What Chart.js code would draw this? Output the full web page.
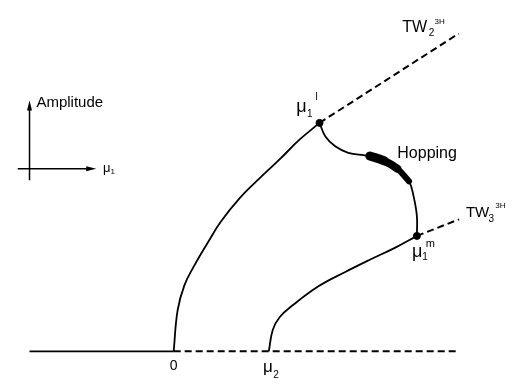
<!DOCTYPE html>
<html>
<head>
<meta charset="utf-8">
<script src="https://cdn.jsdelivr.net/npm/chart.js@4/dist/chart.umd.min.js"></script>
<style>
  html, body { margin: 0; padding: 0; background: #fff; }
  #wrap { width: 518px; height: 389px; }
</style>
</head>
<body>
<div id="wrap"><canvas id="bifurcation"></canvas></div>
<script>
// trivial state: stable for mu1 < 0, unstable beyond
const trivialStableX = [-14.7, 0];
const trivialUnstableX = [0, 28.8];

// first travelling-wave branch, born at mu1 = 0
const branch1X = [0, 0.4, 1.1, 2.1, 3.5, 4.8, 6.8, 8.8, 10.8, 12.8, 14.87];
const branch1Y = [0, 4.2, 6.8, 8.8, 11.2, 13.3, 15.8, 17.8, 19.7, 21.7, 23.45];

// second branch, born at mu2
const branch2X = [9.7, 10.1, 10.8, 12.1, 14.8, 17.5, 20.1, 22.6, 24.8];
const branch2Y = [0, 2.2, 3.5, 4.7, 6.7, 8.15, 9.45, 10.65, 11.85];

// hopping branch joining mu1^l and mu1^m
const hopX = [14.87, 15.47, 16.47, 17.8, 19.47, 20.0, 21.47, 22.8, 24.0, 24.47, 24.8, 24.8];
const hopY = [23.45, 22.05, 21.05, 20.38, 20.12, 20.05, 19.55, 18.75, 17.45, 15.88, 13.88, 11.85];
const hopStableX = [20.0, 21.47, 22.8, 24.0];
const hopStableY = [20.05, 19.55, 18.75, 17.45];

// unstable continuations past the bifurcation points
const tw2X = [14.87, 29.07];
const tw2Y = [23.45, 32.62];
const tw3X = [24.8, 29.1];
const tw3Y = [11.85, 13.55];

// mu1^l and mu1^m
const bifX = [14.87, 24.8];
const bifY = [23.45, 11.85];

const pts = (xs, ys) => xs.map((x, i) => ({ x: x, y: ys ? ys[i] : 0 }));

const FONT = '"Liberation Sans", Arial, sans-serif';

// text pieces: [text, x, y, size], x/y in chart units (left edge, baseline)
const labels = [
  ['TW', 23.3, 32.75, 16], ['2', 26.0, 32.35, 10], ['3H', 26.6, 33.55, 8],
  ['TW', 29.8, 13.75, 15], ['3', 32.1, 13.25, 10], ['3H', 32.8, 14.75, 8],
  ['Hopping', 22.8, 19.88, 16],
  ['\u03bc', 12.5, 24.6, 18], ['1', 13.6, 24.05, 10], ['l', 14.45, 25.75, 10],
  ['\u03bc', 24.3, 9.7, 18], ['1', 25.35, 9.35, 10], ['m', 25.7, 10.75, 11],
  ['\u03bc', 9.1, -2.15, 17], ['2', 10.15, -2.75, 10],
  ['Amplitude', -14.0, 25.05, 15],
  ['\u03bc', -7.2, 18.45, 13], ['1', -6.45, 18.25, 8]
];

const textPlugin = {
  id: 'sketchText',
  afterDatasetsDraw(chart) {
    const c = chart.ctx;
    const sx = chart.scales.x, sy = chart.scales.y;
    c.save();
    c.fillStyle = '#000';
    c.strokeStyle = '#000';
    c.textBaseline = 'alphabetic';
    c.textAlign = 'left';
    labels.forEach(([t, x, y, s]) => {
      c.font = s + 'px ' + FONT;
      c.fillText(t, sx.getPixelForValue(x), sy.getPixelForValue(y));
    });
    c.font = '14px ' + FONT;
    c.textAlign = 'center';
    c.fillText('0', sx.getPixelForValue(0), sy.getPixelForValue(-1.95));

    // small axes key: amplitude up, mu1 to the right
    const ox = sx.getPixelForValue(-14.7), oy = sy.getPixelForValue(18.75);
    const top = sy.getPixelForValue(25.75), bottom = sy.getPixelForValue(17.55);
    const left = sx.getPixelForValue(-15.9), right = sx.getPixelForValue(-7.9);
    c.lineWidth = 1.5;
    c.beginPath();
    c.moveTo(ox, bottom); c.lineTo(ox, top + 8);
    c.moveTo(left, oy); c.lineTo(right - 8, oy);
    c.stroke();
    c.beginPath();
    c.moveTo(ox, top); c.lineTo(ox - 2.5, top + 10); c.lineTo(ox + 2.5, top + 10); c.closePath();
    c.moveTo(right, oy); c.lineTo(right - 10, oy - 2.5); c.lineTo(right - 10, oy + 2.5); c.closePath();
    c.fill();
    c.restore();
  }
};

const solid = { borderColor: '#000', borderWidth: 1.8, pointRadius: 0, showLine: true, fill: false };
const dashed = Object.assign({}, solid, { borderWidth: 2, borderDash: [7, 4] });

new Chart(document.getElementById('bifurcation'), {
  type: 'scatter',
  data: {
    datasets: [
      Object.assign({ data: pts(trivialStableX) }, solid),
      Object.assign({ data: pts(trivialUnstableX) }, dashed),
      Object.assign({ data: pts(branch1X, branch1Y), tension: 0.4 }, solid),
      Object.assign({ data: pts(branch2X, branch2Y), tension: 0.4 }, solid),
      Object.assign({ data: pts(hopX, hopY), tension: 0.4 }, solid),
      Object.assign({}, solid, {
        data: pts(hopStableX, hopStableY),
        tension: 0.4,
        borderWidth: 8,
        borderCapStyle: 'round',
        borderJoinStyle: 'round',
        segment: { borderWidth: ctx => [9, 8, 6][ctx.p0DataIndex] }
      }),
      Object.assign({ data: pts(tw2X, tw2Y) }, dashed),
      Object.assign({ data: pts(tw3X, tw3Y) }, dashed),
      {
        data: pts(bifX, bifY),
        pointRadius: 3.5,
        pointBackgroundColor: '#000',
        pointBorderColor: '#000',
        showLine: false
      }
    ]
  },
  options: {
    responsive: true,
    maintainAspectRatio: false,
    animation: false,
    layout: { padding: 0 },
    scales: {
      x: { type: 'linear', min: -17.2, max: 34.6, display: false },
      y: { type: 'linear', min: -3.35, max: 35.55, display: false }
    },
    plugins: {
      legend: { display: false },
      tooltip: { enabled: false }
    }
  },
  plugins: [textPlugin]
});
</script>
</body>
</html>
